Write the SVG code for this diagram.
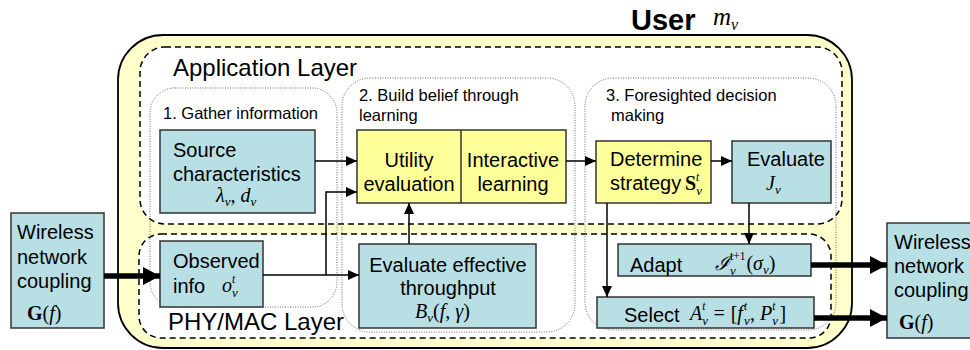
<svg xmlns="http://www.w3.org/2000/svg" width="970" height="350" viewBox="0 0 970 350">
<style>
.t{font-family:"Liberation Sans",Arial,sans-serif;font-size:20px;fill:#000}
.s{font-family:"Liberation Sans",Arial,sans-serif;font-size:16.5px;fill:#000}
.L{font-family:"Liberation Sans",Arial,sans-serif;font-size:24px;fill:#000}
.m{font-family:"Liberation Serif","DejaVu Serif",serif;font-style:italic;font-size:20px;fill:#000}
.b{font-style:normal;font-weight:bold}
.u{font-style:normal}
.sub{font-size:13px}
.sup{font-size:11.5px}
.teal{fill:#b8dfe3;stroke:#333;stroke-width:1.5}
.yel{fill:#ffff99;stroke:#333;stroke-width:1.5}
.dot{fill:none;stroke:#666;stroke-width:1;stroke-dasharray:1 1.5}
.dash{fill:#fff;stroke:#000;stroke-width:1.5;stroke-dasharray:6 4}
.c{fill:none;stroke:#000;stroke-width:1.5}
.k{fill:none;stroke:#000;stroke-width:5.5}
</style>
<defs>
<marker id="a" markerUnits="userSpaceOnUse" markerWidth="12" markerHeight="10" refX="11" refY="5" orient="auto"><path d="M0,0 L11,5 L0,10 z" fill="#000"/></marker>
<marker id="A" markerUnits="userSpaceOnUse" markerWidth="18" markerHeight="18" refX="17" refY="9" orient="auto"><path d="M0,0 L17,9 L0,18 z" fill="#000"/></marker>
</defs>

<g id="user">
<rect x="118" y="35" width="734" height="313" rx="45" fill="#ffffcc" stroke="#000" stroke-width="1.8"/>
<text x="631" y="30" class="L" style="font-weight:bold;font-size:29px">User</text>
<text x="713" y="25" class="m" style="font-size:25px">m<tspan class="sub" style="font-size:16px" dy="5">v</tspan></text>
</g>

<g id="app-layer">
<rect x="140" y="47" width="702" height="177" rx="25" class="dash"/>
<text x="173" y="76" class="L">Application Layer</text>
</g>
<g id="phy-layer">
<rect x="139" y="234" width="692" height="104" rx="22" class="dash"/>
<text x="168" y="330" class="L">PHY/MAC Layer</text>
</g>

<g id="step1">
<rect x="150" y="88" width="187" height="219" rx="25" class="dot"/>
<text x="163" y="119" class="s">1. Gather information</text>
</g>
<g id="step2">
<rect x="342" y="78" width="233" height="254" rx="28" class="dot"/>
<text x="359" y="101" class="s">2. Build belief through</text>
<text x="359" y="121" class="s">learning</text>
</g>
<g id="step3">
<rect x="585" y="78" width="251" height="252" rx="28" class="dot"/>
<text x="606" y="101" class="s">3. Foresighted decision</text>
<text x="611" y="121" class="s">making</text>
</g>

<g id="source">
<rect x="160" y="130" width="155" height="83" class="teal"/>
<text x="173" y="157" class="t">Source</text>
<text x="173" y="181" class="t">characteristics</text>
<text x="216" y="202" class="m">λ<tspan class="sub" dy="4">v</tspan><tspan class="u" dy="-4">, </tspan>d<tspan class="sub" dy="4">v</tspan></text>
</g>

<g id="utility">
<rect x="357" y="130" width="209" height="73" class="yel"/>
<line x1="461" y1="130" x2="461" y2="203" stroke="#333" stroke-width="1.5"/>
<text x="409" y="167" class="t" text-anchor="middle">Utility</text>
<text x="409" y="191" class="t" text-anchor="middle">evaluation</text>
<text x="513" y="167" class="t" text-anchor="middle">Interactive</text>
<text x="513" y="191" class="t" text-anchor="middle">learning</text>
</g>

<g id="determine">
<rect x="596" y="141" width="115" height="62" class="yel"/>
<text x="610" y="166" class="t">Determine</text>
<text x="610" y="190" class="t">strategy</text>
<text x="685" y="190" class="m"><tspan class="b">S</tspan><tspan class="sub" dy="5">v</tspan><tspan class="sup" dx="-5.8" dy="-14">t</tspan></text>
</g>

<g id="evaluate">
<rect x="732" y="141" width="99" height="62" class="teal"/>
<text x="747" y="166" class="t">Evaluate</text>
<text x="766" y="190" class="m">J<tspan class="sub" dy="4">v</tspan></text>
</g>

<g id="observed">
<rect x="160" y="241" width="103" height="66" class="teal"/>
<text x="173" y="268" class="t">Observed</text>
<text x="173" y="293" class="t">info</text>
<text x="222" y="292" class="m">o<tspan class="sub" dy="5">v</tspan><tspan class="sup" dx="-5.8" dy="-14">t</tspan></text>
</g>

<g id="throughput">
<rect x="359" y="244" width="177" height="84" class="teal"/>
<text x="448" y="272" class="t" text-anchor="middle">Evaluate effective</text>
<text x="448" y="295" class="t" text-anchor="middle">throughput</text>
<text x="415" y="318" class="m">B<tspan class="sub" dy="4">v</tspan><tspan class="u" dy="-4">(</tspan>f<tspan class="u">, </tspan>γ<tspan class="u">)</tspan></text>
</g>

<g id="adapt">
<rect x="618" y="244" width="193" height="32" class="teal"/>
<text x="630" y="272" class="t">Adapt</text>
<text x="715" y="270" class="m">ℐ<tspan class="sub" dy="5">v</tspan><tspan class="sup u" dx="-5.8" dy="-15">t+1</tspan><tspan class="u" dx="1" dy="10">(</tspan>σ<tspan class="sub" dy="4">v</tspan><tspan class="u" dy="-4">)</tspan></text>
</g>

<g id="select">
<rect x="597" y="297" width="217" height="31" class="teal"/>
<text x="624" y="322" class="t">Select</text>
<text x="690" y="320" class="m">A<tspan class="sub" dy="5">v</tspan><tspan class="sup" dx="-5.8" dy="-15">t</tspan><tspan class="u" dx="8" dy="10">=</tspan><tspan class="u" dx="6">[</tspan>f<tspan class="sub" dx="1" dy="5">v</tspan><tspan class="sup" dx="-5.8" dy="-15">t</tspan><tspan class="u" dx="3" dy="10">,</tspan><tspan dx="5">P</tspan><tspan class="sub" dy="5">v</tspan><tspan class="sup" dx="-5.8" dy="-15">t</tspan><tspan class="u" dx="4" dy="10">]</tspan></text>
</g>

<g id="wireless-in">
<rect x="11" y="213" width="93" height="115" class="teal"/>
<text x="17" y="239" class="t">Wireless</text>
<text x="17" y="264" class="t">network</text>
<text x="17" y="288" class="t">coupling</text>
<text x="27" y="320" class="m"><tspan class="b">G</tspan><tspan class="u">(</tspan>f<tspan class="u">)</tspan></text>
</g>

<g id="wireless-out">
<rect x="887" y="223" width="100" height="115" class="teal"/>
<text x="894" y="249" class="t">Wireless</text>
<text x="894" y="273" class="t">network</text>
<text x="894" y="297" class="t">coupling</text>
<text x="899" y="329" class="m"><tspan class="b">G</tspan><tspan class="u">(</tspan>f<tspan class="u">)</tspan></text>
</g>

<g id="connectors">
<line x1="104" y1="276" x2="160" y2="276" class="k" marker-end="url(#A)"/>
<line x1="315" y1="161" x2="357" y2="161" class="c" marker-end="url(#a)"/>
<line x1="263" y1="275" x2="359" y2="275" class="c" marker-end="url(#a)"/>
<polyline points="326,275 326,192 357,192" class="c" marker-end="url(#a)"/>
<line x1="409" y1="244" x2="409" y2="203" class="c" marker-end="url(#a)"/>
<line x1="566" y1="161" x2="596" y2="161" class="c" marker-end="url(#a)"/>
<line x1="711" y1="161" x2="732" y2="161" class="c" marker-end="url(#a)"/>
<line x1="607" y1="203" x2="607" y2="297" class="c" marker-end="url(#a)"/>
<line x1="749" y1="203" x2="749" y2="244" class="c" marker-end="url(#a)"/>
<line x1="811" y1="265" x2="887" y2="265" class="k" marker-end="url(#A)"/>
<line x1="814" y1="318" x2="887" y2="318" class="k" marker-end="url(#A)"/>
</g>
</svg>
